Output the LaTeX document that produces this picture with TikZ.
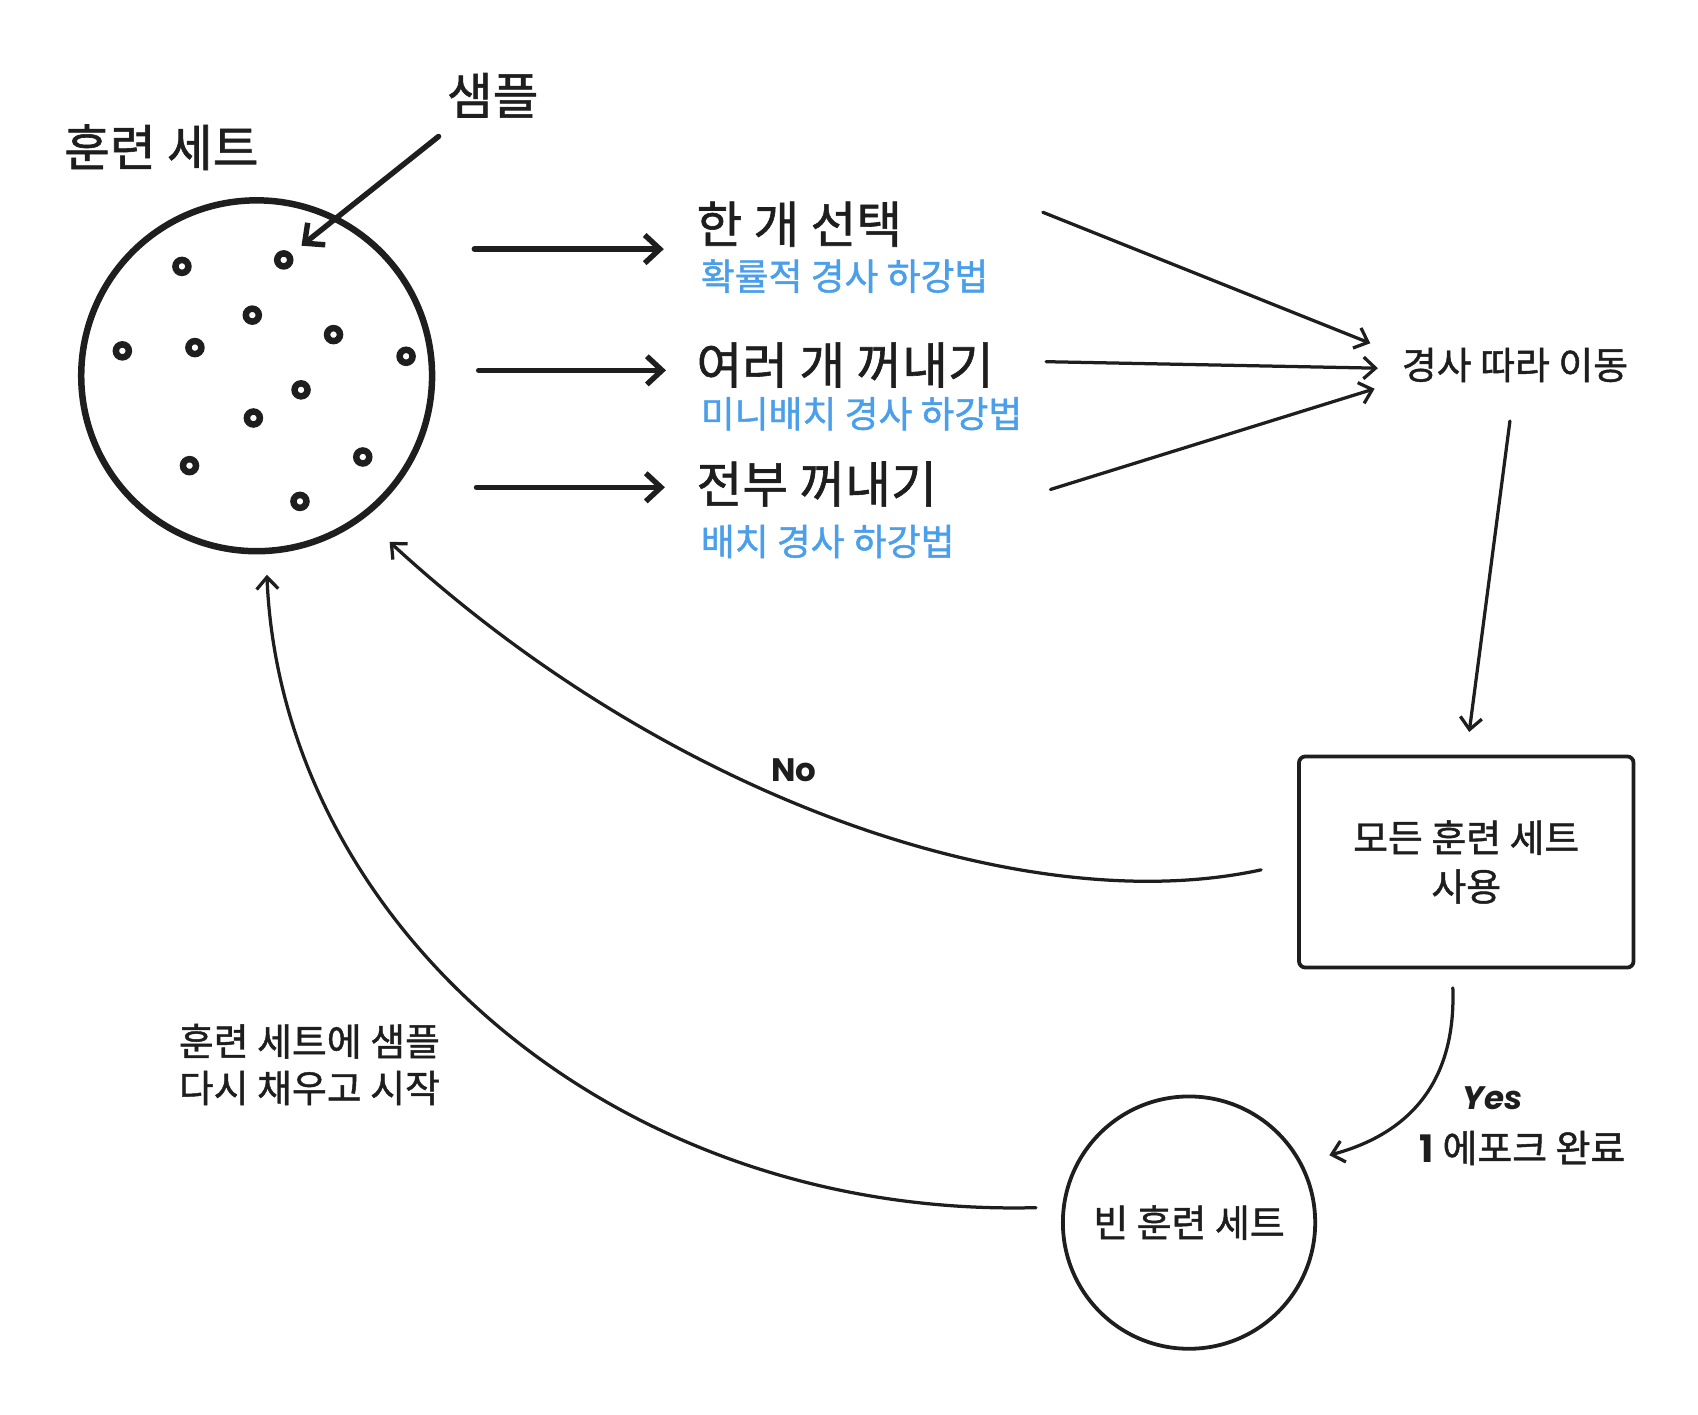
\documentclass[tikz,border=0pt]{standalone}
\usepackage{fontspec}
\setmainfont{Noto Sans CJK KR}[FakeBold=1.2]
\newfontfamily\handfont{Poppins}
\usetikzlibrary{arrows.meta}
\definecolor{ink}{HTML}{1E1E1E}
\definecolor{skyblue}{HTML}{4A9EEA}

\begin{document}
\begin{tikzpicture}[x=1pt,y=-1pt,
  every node/.style={text=ink,inner sep=0pt},
  big/.style={font=\fontsize{46}{54}\selectfont},
  hint/.style={font=\fontsize{34}{42}\selectfont,text=skyblue},
  small/.style={font=\fontsize{35}{45}\selectfont},
  hand/.style={font=\handfont\bfseries\fontsize{30}{36}\selectfont},
  grain/.style={circle,draw=ink,line width=6pt,minimum size=12pt},
  fat/.style={draw=ink,line width=5pt,line cap=round,line join=round,-{Straight Barb[length=14pt,width=26pt]}},
  link/.style={draw=ink,line width=3pt,line cap=round,line join=round,-{Straight Barb[length=11pt,width=20pt]}}]
  \useasboundingbox (0,0) rectangle (1568,1306);

  % training set with its samples
  \node[circle,draw=ink,line width=6pt,minimum size=324pt] (set) at (237,347) {};
  \foreach \x/\y [count=\i] in {168/246,262/240,233/291,113/324,180/321,308/309,
                                375/329,278/360,234/386,175/430,335/422,277/463}
    \node[grain] (g\i) at (\x,\y) {};
  \node[big] (setlbl) at (149,136) {훈련 세트};
  \node[big] (samp) at (455,88) {샘플};
  \coordinate (samptail) at (405,126);
  \draw[fat,shorten >=12pt] (samptail) -- (g2);

  % three ways to draw samples
  \node[big,anchor=west] (one) at (643,207) {한 개 선택};
  \node[hint,anchor=west] (sgd) at (647,255) {확률적 경사 하강법};
  \node[big,anchor=west] (many) at (643,337) {여러 개 꺼내기};
  \node[hint,anchor=west] (mbgd) at (647,382) {미니배치 경사 하강법};
  \node[big,anchor=west] (all) at (643,447) {전부 꺼내기};
  \node[hint,anchor=west] (bgd) at (647,500) {배치 경사 하강법};
  \coordinate (f1) at (438,230);
  \coordinate (f2) at (442,342);
  \coordinate (f3) at (440,450);
  \draw[fat,shorten >=30pt] (f1) -- (one.west |- f1);
  \draw[fat,shorten >=28pt] (f2) -- (many.west |- f2);
  \draw[fat,shorten >=29pt] (f3) -- (all.west |- f3);

  % gradient step
  \node[small] (move) at (1399,337) {경사 따라 이동};
  \coordinate (r1) at (963,196);
  \coordinate (r2) at (966,334);
  \coordinate (r3) at (970,452);
  \draw[link] (r1) -- ([xshift=-29pt,yshift=20pt]move.west);
  \draw[link] (r2) -- ([xshift=-22pt,yshift=-3pt]move.west);
  \draw[link] (r3) -- ([xshift=-25pt,yshift=-22pt]move.west);

  \node[draw=ink,line width=3.5pt,rounded corners=6pt,minimum width=309pt,minimum height=195pt,
        small,align=center] (check) at (1354,796) {모든 훈련 세트\\사용};
  \draw[link,shorten <=36pt,shorten >=21pt] (move.south) -- (check.north);

  \node[circle,draw=ink,line width=3.5pt,minimum size=233pt,small] (empty) at (1098,1129) {빈 훈련 세트};

  % loops
  \draw[link,shorten <=34pt,shorten >=32pt] (check.west) .. controls (950,850) and (620,740) .. (set.-53);
  \node[hand] (no) at (733,711) {No};
  \draw[link,shorten <=17pt,shorten >=26pt] ([xshift=-13pt]check.south) .. controls (1345,1010) and (1290,1050) .. (empty.28);
  \node[hand,font=\handfont\bfseries\itshape\fontsize{30}{36}\selectfont] (yes) at (1378,1014) {Yes};
  \node[small] (epoch) at (1406,1060) {{\handfont\bfseries 1} 에포크 완료};
  \draw[link,shorten <=24pt,shorten >=19pt] (empty.173) .. controls (565,1125) and (260,852) .. (set.-87);
  \node[small,align=left,anchor=west,font=\fontsize{35}{43}\selectfont] (refill) at (165,983) {훈련 세트에 샘플\\다시 채우고 시작};
\end{tikzpicture}
\end{document}
